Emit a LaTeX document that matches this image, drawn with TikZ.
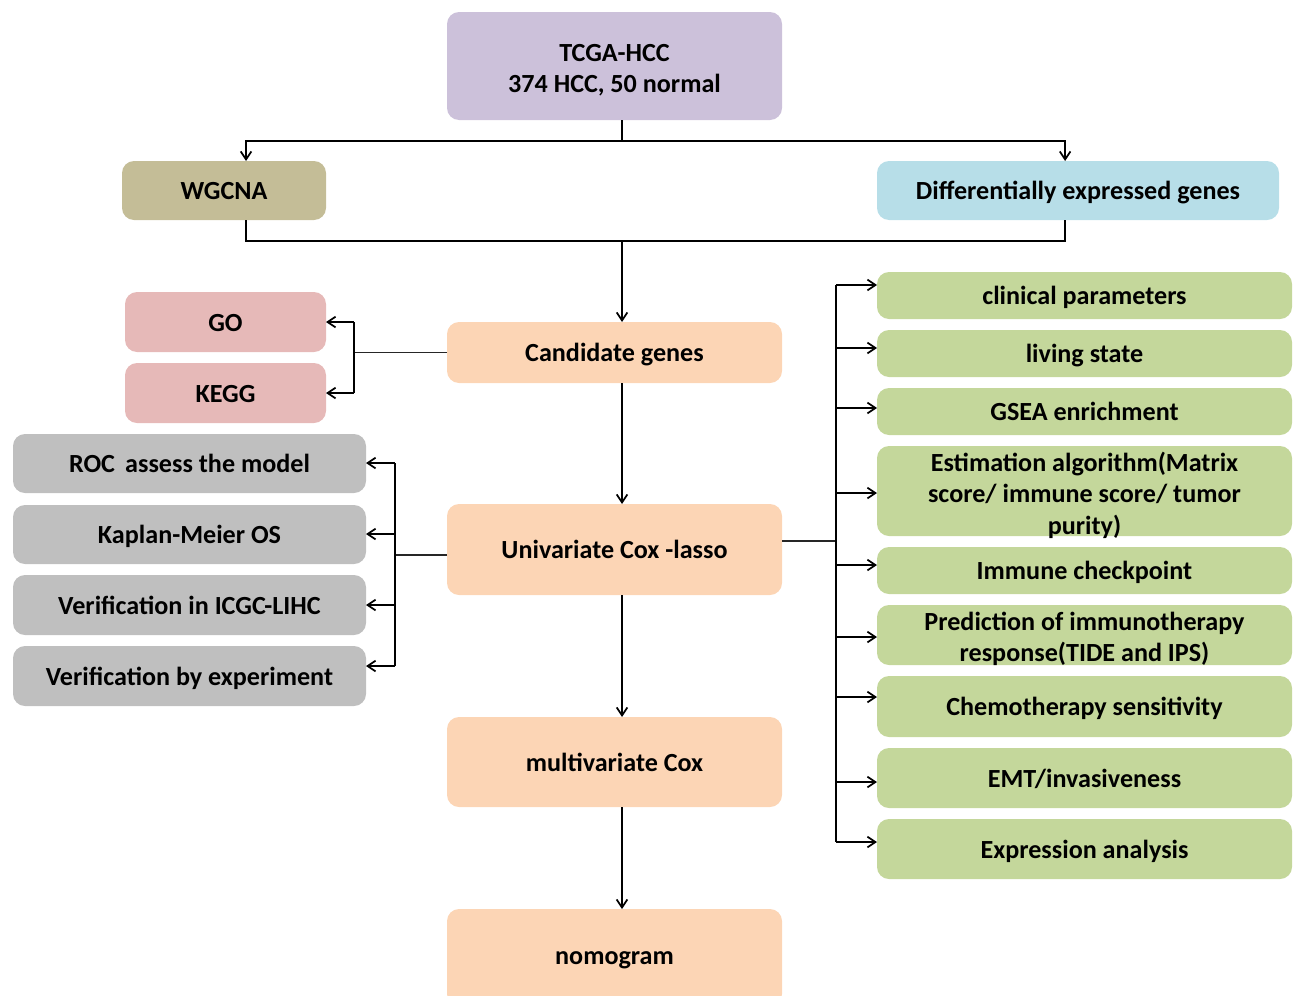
\documentclass[tikz,border=0pt]{standalone}
\usepackage{fontspec}
\setmainfont{Carlito}
\usetikzlibrary{arrows.meta,calc}
\definecolor{lav}{HTML}{CCC1DA}
\definecolor{tan}{HTML}{C4BD97}
\definecolor{lblue}{HTML}{B7DEE8}
\definecolor{peach}{HTML}{FCD5B5}
\definecolor{pink}{HTML}{E6B9B8}
\definecolor{lgray}{HTML}{BFBFBF}
\definecolor{lgreen}{HTML}{C4D79B}
\newcommand{\bx}[7]{%
 \pgfmathsetmacro{\bxcx}{(#2+#4)/2}\pgfmathsetmacro{\bxcy}{(#3+#5)/2}%
 \pgfmathsetmacro{\bxw}{(#4-#2)*0.75}\pgfmathsetmacro{\bxh}{(#5-#3)*0.75}%
 \node[box,fill=#6,minimum width=\bxw pt,minimum height=\bxh pt] (#1) at (\bxcx,\bxcy) {#7};}
\newcommand{\bxm}[7]{%
 \pgfmathsetmacro{\bxcx}{(#2+#4)/2}\pgfmathsetmacro{\bxcy}{(#3+#5)/2}%
 \pgfmathsetmacro{\bxw}{(#4-#2)*0.75}\pgfmathsetmacro{\bxh}{(#5-#3)*0.75}%
 \node[box,fill=#6,minimum width=\bxw pt,minimum height=\bxh pt] (#1) at (\bxcx,\bxcy) {};
 \node[mtext] (#1t) at (\bxcx,\bxcy+4) {#7};}
\begin{document}
\begin{tikzpicture}[x=0.75pt,y=-0.75pt,
  box/.style={rounded corners=9pt,draw=none,inner sep=0pt,outer sep=0pt,align=center,
    font=\fontsize{19.6pt}{23.6pt}\selectfont\bfseries,
    execute at begin node=\rule{0pt}{18.2pt},
    execute at end node=\rule[-4.5pt]{0pt}{4.5pt}},
  mtext/.style={inner sep=0pt,outer sep=0pt,align=center,
    font=\fontsize{19.6pt}{23.6pt}\selectfont\bfseries},
  conn/.style={line width=1.3pt,black},
  thinc/.style={line width=0.9pt,black!85},
  arr/.style={conn,-{Straight Barb[length=6pt,width=8pt,line width=1.3pt]}}]
\useasboundingbox (0,0) rectangle (1293,996);
\begin{scope}
\clip (0,0) rectangle (1293,996);
\bxm{tcga}{447}{12}{782}{120}{lav}{TCGA-HCC\\374 HCC, 50 normal}
\bx{wgcna}{122}{161}{326}{220}{tan}{WGCNA}
\bx{deg}{877}{161}{1279}{220}{lblue}{Differentially expressed genes}
\bx{cand}{447}{322}{782}{383}{peach}{Candidate genes}
\bx{go}{125}{292}{326}{352}{pink}{GO}
\bx{kegg}{125}{363}{326}{423}{pink}{KEGG}
\bx{uni}{447}{504}{782}{595}{peach}{Univariate Cox -lasso}
\bx{multi}{447}{717}{782}{807}{peach}{multivariate Cox}
\bx{nomo}{447}{909}{782}{1006}{peach}{}
\node[box] (nomot) at (614.5,955) {nomogram};
\bx{roc}{13}{434}{366}{493}{lgray}{ROC\, assess the model}
\bx{km}{13}{505}{366}{564}{lgray}{Kaplan-Meier OS}
\bx{icgc}{13}{575}{366}{635}{lgray}{Verification in ICGC-LIHC}
\bx{vexp}{13}{646}{366}{706}{lgray}{Verification by experiment}
\bx{clin}{877}{272}{1292}{319}{lgreen}{clinical parameters}
\bx{living}{877}{330}{1292}{377}{lgreen}{living state}
\bx{gsea}{877}{388}{1292}{435}{lgreen}{GSEA enrichment}
\bxm{est}{877}{446}{1292}{536}{lgreen}{Estimation algorithm(Matrix\\score/ immune score/ tumor\\purity)}
\bx{immune}{877}{547}{1292}{594}{lgreen}{Immune checkpoint}
\bxm{pred}{877}{605}{1292}{665}{lgreen}{Prediction of immunotherapy\\response(TIDE and IPS)}
\bx{chemo}{877}{676}{1292}{737}{lgreen}{Chemotherapy sensitivity}
\bx{emt}{877}{748}{1292}{808}{lgreen}{EMT/invasiveness}
\bx{expr}{877}{819}{1292}{879}{lgreen}{Expression analysis}
\end{scope}
\coordinate (mx) at (622,0);
% top split
\coordinate (j1) at (622,141);
\coordinate (wgn) at ($(wgcna.north west)!0.608!(wgcna.north east)$);
\coordinate (degn) at ($(deg.north west)!0.468!(deg.north east)$);
\draw[conn] (tcga.south -| mx) -- (j1);
\draw[arr] (j1) -| (wgn);
\draw[arr] (j1) -| (degn);
% merge
\coordinate (wgs) at ($(wgcna.south west)!0.608!(wgcna.south east)$);
\coordinate (degs) at ($(deg.south west)!0.468!(deg.south east)$);
\coordinate (j2) at (622,241);
\draw[conn] (wgs) |- (j2) -| (degs);
\draw[arr] (j2) -- (cand.north -| mx);
% GO / KEGG
\coordinate (gx) at (354,0);
\coordinate (j3) at (cand.west -| gx);
\draw[thinc] (cand.west) -- (j3);
\draw[conn] (go.east -| gx) -- (kegg.east -| gx);
\draw[arr] (go.east -| gx) -- (go.east);
\draw[arr] (kegg.east -| gx) -- (kegg.east);
% main chain
\draw[arr] (cand.south -| mx) -- (uni.north -| mx);
\draw[arr] (uni.south -| mx) -- (multi.north -| mx);
\draw[arr] (multi.south -| mx) -- (nomo.north -| mx);
% left gray
\coordinate (j4) at (395,555);
\draw[thinc] ($(uni.west)+(0,5.5)$) -- (j4);
\draw[conn] (395,463) -- (395,666);
\foreach \n/\y in {roc/463,km/534,icgc/605,vexp/666}{
  \draw[arr] (395,\y) -- (\n.east |- 0,\y);
}
% right green
\coordinate (j5) at (836,541);
\draw[thinc] ($(uni.east)+(0,-8.5)$) -- (j5);
\draw[conn] (836,285) -- (836,842);
\foreach \n/\y in {clin/285,living/348,gsea/408,est/493,immune/565,pred/637,chemo/697,emt/782,expr/842}{
  \draw[arr] (836,\y) -- (\n.west |- 0,\y);
}
\end{tikzpicture}
\end{document}
